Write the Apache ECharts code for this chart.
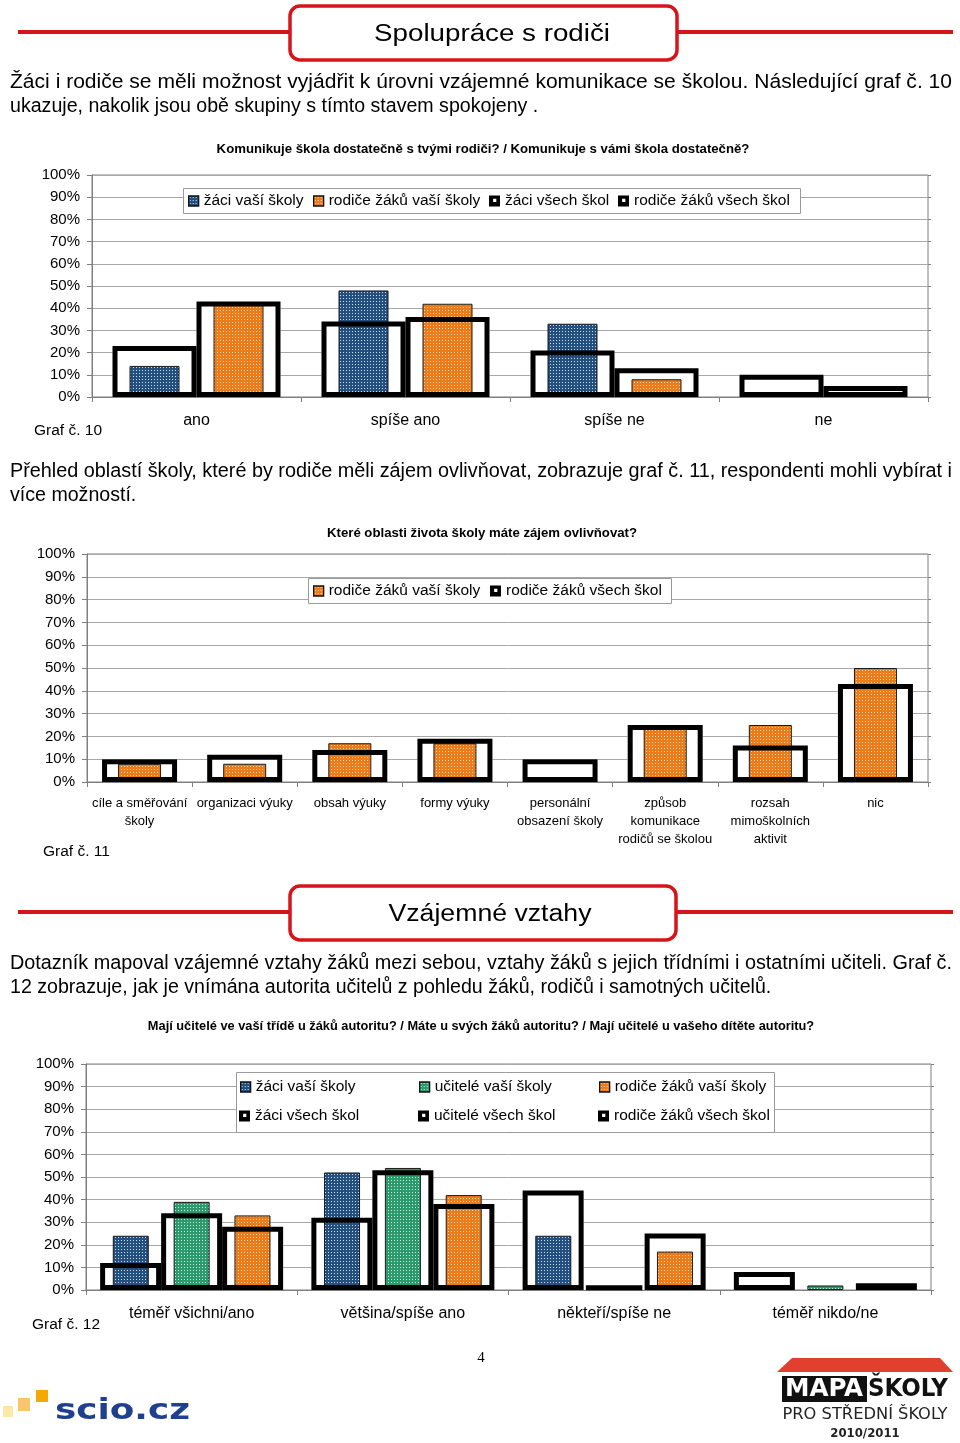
<!DOCTYPE html>
<html><head><meta charset="utf-8">
<script src="https://cdn.jsdelivr.net/npm/echarts@6/dist/echarts.min.js"></script>
<style>html,body{margin:0;padding:0;background:#fff}#c{width:960px;height:1443px}</style>
</head><body><div id="c"></div>
<script>
// ---------- DATA ----------
const cats10 = ['ano', 'spíše ano', 'spíše ne', 'ne'];
const zaciVasi10 = [14, 48, 33, 0];
const rodiceVasi10 = [42, 42, 8, 0];
const zaciVsech10 = [23, 34, 21, 10];
const rodiceVsech10 = [43, 36, 13, 5];

const cats11 = ['cíle a směřování\nškoly', 'organizaci výuky', 'obsah výuky', 'formy výuky',
  'personální\nobsazení školy', 'způsob\nkomunikace\nrodičů se školou', 'rozsah\nmimoškolních\naktivit', 'nic'];
const rodiceVasi11 = [8, 8, 17, 17, 0, 24, 25, 50];
const rodiceVsech11 = [10, 12, 14, 19, 10, 25, 16, 43];

const cats12 = ['téměř všichni/ano', 'většina/spíše ano', 'někteří/spíše ne', 'téměř nikdo/ne'];
const zaciVasi12 = [24, 52, 24, 0];
const uciteleVasi12 = [39, 54, 0, 2];
const rodiceVasi12 = [33, 42, 17, 0];
const zaciVsech12 = [12, 32, 44, 8];
const uciteleVsech12 = [34, 53, 2, 0];
const rodiceVsech12 = [28, 38, 25, 3];

const yTicks = [0, 100, 10]; // min, max, interval (percent)

// ---------- STYLE HELPERS ----------
const FONT = '"Liberation Sans", Arial, Helvetica, sans-serif';
function pattern(base, dot) {
  const c = document.createElement('canvas'); c.width = 3; c.height = 3;
  const g = c.getContext('2d');
  g.fillStyle = base; g.fillRect(0, 0, 3, 3);
  g.fillStyle = dot; g.fillRect(1, 1, 1, 1);
  return { image: c, repeat: 'repeat' };
}
const BLUE = pattern('#23507e', '#c6ddf3');
const ORANGE = pattern('#ec7b1c', '#ffd8a6');
const GREEN = pattern('#2c9a6c', '#c6efda');
const nz = a => a.map(v => v === 0 ? null : v);
const OUTLINE_ICON = 'path://M0,0H12V12H0Z M4.5,3.5V7H8V3.5Z';

const xAxes = [], yAxes = [], series = [], grids = [], legends = [];

function addChart(grid, cats, colored, outlined, o) {
  const gi = grids.length;
  grids.push(Object.assign({ show: true, borderColor: '#808080', borderWidth: 1, backgroundColor: '#fff', containLabel: false }, grid));
  const xa = xAxes.length;
  xAxes.push({
    gridIndex: gi, type: 'category', data: cats, boundaryGap: true,
    axisLine: { lineStyle: { color: '#7f7f7f' } },
    axisTick: { show: true, length: 5, interval: 0, lineStyle: { color: '#7f7f7f' } },
    axisLabel: { interval: 0, margin: o.xMargin, fontSize: o.xFont, lineHeight: o.xLine, color: '#000', fontFamily: FONT },
    splitLine: { show: false }
  });
  xAxes.push({ gridIndex: gi, type: 'category', data: cats, show: false });
  xAxes.push({ gridIndex: gi, type: 'category', data: cats, show: false });
  const ya = yAxes.length;
  yAxes.push({
    gridIndex: gi, type: 'value', min: yTicks[0], max: yTicks[1], interval: yTicks[2],
    axisLine: { show: true, lineStyle: { color: '#7f7f7f' } },
    axisTick: { show: true, length: 5, lineStyle: { color: '#7f7f7f' } },
    axisLabel: { formatter: '{value}%', fontSize: 15, color: '#000', margin: 12, fontFamily: FONT },
    splitLine: { lineStyle: { color: '#a8a8a8' } }
  });
  yAxes.push({
    gridIndex: gi, type: 'value', position: 'right', min: yTicks[0], max: yTicks[1], interval: yTicks[2],
    axisLine: { show: false }, axisTick: { show: true, length: 3, lineStyle: { color: '#7f7f7f' } },
    axisLabel: { show: false }, splitLine: { show: false }
  });
  outlined.forEach(s => series.push({
    type: 'bar', name: s.name, xAxisIndex: xa + 1, yAxisIndex: ya, data: nz(s.data),
    barWidth: o.ow, barGap: '0%', z: 2, silent: true,
    itemStyle: { color: '#fff', borderWidth: 0 }
  }));
  colored.forEach(s => series.push({
    type: 'bar', name: s.name, xAxisIndex: xa, yAxisIndex: ya, data: nz(s.data),
    barWidth: o.cw, barGap: o.cg, z: 3, silent: true,
    itemStyle: { color: s.color, borderColor: '#1b1b1b', borderWidth: 1 }
  }));
  outlined.forEach(s => series.push({
    type: 'bar', name: s.name, xAxisIndex: xa + 2, yAxisIndex: ya, data: nz(s.data),
    barWidth: o.ow, barGap: '0%', z: 4, silent: true,
    itemStyle: { color: 'rgba(0,0,0,0)', borderColor: '#000', borderWidth: 5 }
  }));
}

function legendItem(name, left, cy, kind, fs) {
  const isOutline = kind === 'outline';
  legends.push({
    data: [{ name: name, icon: isOutline ? OUTLINE_ICON : 'rect',
      itemStyle: isOutline ? { color: '#000', borderWidth: 0 } : { borderColor: '#111', borderWidth: 1.3 } }],
    left: left, top: cy - 8, padding: 0, itemGap: 0,
    itemWidth: isOutline ? 11 : 10, itemHeight: isOutline ? 11 : 10,
    selectedMode: false, z: 10,
    textStyle: { fontSize: fs, color: '#000', fontFamily: FONT }
  });
}

// Chart 10
addChart({ left: 92, top: 175, width: 836, height: 222 }, cats10,
  [{ name: 'žáci vaší školy', data: zaciVasi10, color: BLUE }, { name: 'rodiče žáků vaší školy', data: rodiceVasi10, color: ORANGE }],
  [{ name: 'žáci všech škol', data: zaciVsech10 }, { name: 'rodiče žáků všech škol', data: rodiceVsech10 }],
  { ow: 84, cw: 50, cg: '68%', xMargin: 15, xFont: 16, xLine: 18 });
// Chart 11
addChart({ left: 87, top: 554, width: 841, height: 228 }, cats11,
  [{ name: 'rodiče žáků vaší školy ', data: rodiceVasi11, color: ORANGE }],
  [{ name: 'rodiče žáků všech škol ', data: rodiceVsech11 }],
  { ow: 75, cw: 43, cg: '0%', xMargin: 12, xFont: 13, xLine: 18 });
// Chart 12
addChart({ left: 86, top: 1064, width: 845, height: 226 }, cats12,
  [{ name: 'žáci vaší školy  ', data: zaciVasi12, color: BLUE }, { name: 'učitelé vaší školy', data: uciteleVasi12, color: GREEN }, { name: 'rodiče žáků vaší školy  ', data: rodiceVasi12, color: ORANGE }],
  [{ name: 'žáci všech škol  ', data: zaciVsech12 }, { name: 'učitelé všech škol', data: uciteleVsech12 }, { name: 'rodiče žáků všech škol  ', data: rodiceVsech12 }],
  { ow: 61, cw: 36, cg: '69%', xMargin: 15, xFont: 16, xLine: 18 });

legendItem('žáci vaší školy', 188, 201, 'c', 15.5);
legendItem('rodiče žáků vaší školy', 313, 201, 'c', 15.5);
legendItem('žáci všech škol', 489, 201, 'outline', 15.5);
legendItem('rodiče žáků všech škol', 618, 201, 'outline', 15.5);

legendItem('rodiče žáků vaší školy ', 313, 591, 'c', 15.5);
legendItem('rodiče žáků všech škol ', 490, 591, 'outline', 15.5);

legendItem('žáci vaší školy  ', 240, 1087, 'c', 15.5);
legendItem('učitelé vaší školy', 419, 1087, 'c', 15.5);
legendItem('rodiče žáků vaší školy  ', 599, 1087, 'c', 15.5);
legendItem('žáci všech škol  ', 239, 1116, 'outline', 15.5);
legendItem('učitelé všech škol', 418, 1116, 'outline', 15.5);
legendItem('rodiče žáků všech škol  ', 598, 1116, 'outline', 15.5);

// ---------- TEXT / DECOR ----------
const RED = '#d7141a';
const mctx = document.createElement('canvas').getContext('2d');
function txt(text, x, y, size, o) {
  o = o || {};
  return { type: 'text', x: x, y: y, z: o.z || 20, scaleX: o.scaleX || 1,
    style: { text: text, x: 0, y: 0, fontSize: size, fontFamily: o.family || FONT, fontWeight: o.weight || 'normal',
      fill: o.fill || '#000', align: o.align || 'left', verticalAlign: o.va || 'middle' } };
}
function fit(text, x, y, size, width, o) {
  o = o || {};
  mctx.font = (o.weight || 'normal') + ' ' + size + 'px ' + (o.family || FONT);
  const w = mctx.measureText(text).width;
  return txt(text, x, y, size, Object.assign({}, o, { scaleX: width / w }));
}
function header(title, y, x1, x2, top, h, cx, tw) {
  return [
    { type: 'line', shape: { x1: 18, y1: y, x2: x1, y2: y }, style: { stroke: RED, lineWidth: 4 }, z: 20 },
    { type: 'line', shape: { x1: x2, y1: y, x2: 953, y2: y }, style: { stroke: RED, lineWidth: 4 }, z: 20 },
    { type: 'rect', shape: { x: x1, y: top, width: x2 - x1, height: h, r: 10 }, style: { fill: '#fff', stroke: RED, lineWidth: 3.5 }, z: 20 },
    fit(title, cx, y + 3, 23, tw, { align: 'center' })
  ];
}
const PF = 19.6;
const graphics = [].concat(
  header('Spolupráce s rodiči', 32, 290, 677, 6, 54, 492, 236),
  [
    fit('Žáci i rodiče se měli možnost vyjádřit k úrovni vzájemné komunikace se školou. Následující graf č. 10', 10, 83, PF, 942),
    txt('ukazuje, nakolik jsou obě skupiny s tímto stavem spokojeny .', 10, 107, PF),
    txt('Komunikuje škola dostatečně s tvými rodiči? / Komunikuje s vámi škola dostatečně?', 483, 149, 13.2, { weight: 'bold', align: 'center' }),
    { type: 'rect', shape: { x: 183.5, y: 188.5, width: 617, height: 25 }, style: { fill: '#fff', stroke: '#9a9a9a', lineWidth: 1 }, z: 5 },
    txt('Graf č. 10', 34, 431, 15.5),
    fit('Přehled oblastí školy, které by rodiče měli zájem ovlivňovat, zobrazuje graf č. 11, respondenti mohli vybírat i', 10, 472, PF, 942),
    txt('více možností.', 10, 496, PF),
    txt('Které oblasti života školy máte zájem ovlivňovat?', 482, 533, 13.2, { weight: 'bold', align: 'center' }),
    { type: 'rect', shape: { x: 308.5, y: 578.5, width: 363, height: 25 }, style: { fill: '#fff', stroke: '#9a9a9a', lineWidth: 1 }, z: 5 },
    txt('Graf č. 11', 43, 852, 15.5)
  ],
  header('Vzájemné vztahy', 912, 290, 676, 886, 54, 490, 203),
  [
    fit('Dotazník mapoval vzájemné vztahy žáků mezi sebou, vztahy žáků s jejich třídními i ostatními učiteli. Graf č.', 10, 964, PF, 942),
    txt('12 zobrazuje, jak je vnímána autorita učitelů z pohledu žáků, rodičů i samotných učitelů.', 10, 988, PF),
    txt('Mají učitelé ve vaší třídě u žáků autoritu? / Máte u svých žáků autoritu? / Mají učitelé u vašeho dítěte autoritu?', 481, 1026, 12.8, { weight: 'bold', align: 'center' }),
    { type: 'rect', shape: { x: 236.5, y: 1072.5, width: 538, height: 60 }, style: { fill: '#fff', stroke: '#9a9a9a', lineWidth: 1 }, z: 5 },
    txt('Graf č. 12', 32, 1325, 15.5),
    txt('4', 481, 1358, 15, { family: '"Liberation Serif", serif', align: 'center' }),
    // scio.cz logo
    { type: 'rect', shape: { x: 3, y: 1406, width: 10, height: 11 }, style: { fill: '#fde8a8' }, z: 20 },
    { type: 'rect', shape: { x: 18, y: 1398, width: 12, height: 13 }, style: { fill: '#f8c56e' }, z: 20 },
    { type: 'rect', shape: { x: 36, y: 1390, width: 12, height: 12 }, style: { fill: '#f4a900' }, z: 20 },
    fit('scio.cz', 55, 1411, 29, 135, { weight: 'bold', fill: '#1f3f8f', family: '"DejaVu Sans", sans-serif' }),
    // MAPA ŠKOLY logo
    { type: 'polygon', shape: { points: [[792, 1358], [940, 1358], [953, 1372], [777, 1372]] }, style: { fill: '#e2402f' }, z: 20 },
    { type: 'rect', shape: { x: 782, y: 1376, width: 85, height: 26 }, style: { fill: '#111' }, z: 20 },
    fit('MAPA', 824, 1389.5, 24, 78, { weight: 'bold', fill: '#fff', align: 'center', family: '"DejaVu Sans Condensed", "DejaVu Sans", sans-serif' }),
    fit('ŠKOLY', 908, 1389.5, 24, 80, { weight: 'bold', fill: '#111', align: 'center', family: '"DejaVu Sans Condensed", "DejaVu Sans", sans-serif' }),
    fit('PRO STŘEDNÍ ŠKOLY', 865, 1415, 15.5, 165, { fill: '#222', align: 'center', family: '"DejaVu Sans Condensed", "DejaVu Sans", sans-serif' }),
    txt('2010/2011', 865, 1434, 13, { weight: 'bold', fill: '#222', align: 'center', family: '"DejaVu Sans Condensed", "DejaVu Sans", sans-serif' })
  ]
);

const chart = echarts.init(document.getElementById('c'), null, { renderer: 'canvas' });
chart.setOption({
  animation: false,
  backgroundColor: '#fff',
  grid: grids, xAxis: xAxes, yAxis: yAxes, series: series, legend: legends,
  graphic: { elements: graphics }
});
</script></body></html>
